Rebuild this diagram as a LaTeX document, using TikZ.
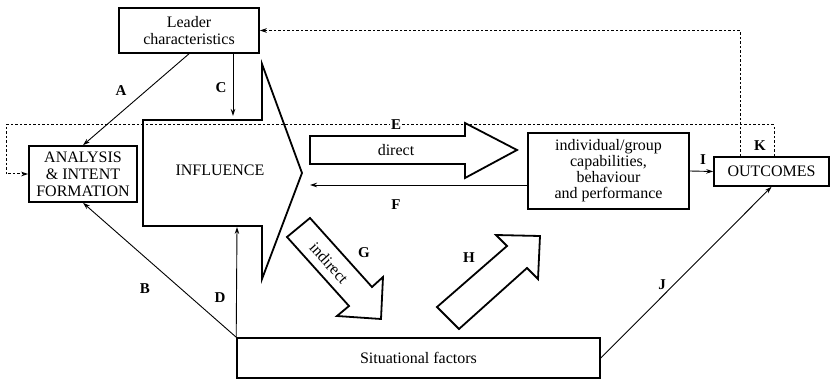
\documentclass[tikz,border=0pt]{standalone}
\usepackage{fontspec}
\setmainfont{Liberation Serif}
\usetikzlibrary{arrows.meta}
\begin{document}
\begin{tikzpicture}[x=1pt,y=-1pt,
  every node/.style={font=\fontsize{16}{17}\selectfont},
  box/.style={draw, line width=1.6pt, align=center, inner sep=0pt},
  conn/.style={line width=0.9pt, -{Stealth[length=7pt,width=4.5pt]}},
  dots/.style={line width=1pt, dash pattern=on 2.5pt off 2pt},
  dotarrow/.style={dots, -{Stealth[length=7pt,width=4.5pt]}},
  lbl/.style={font=\fontsize{15}{16}\selectfont\bfseries, inner sep=1pt},
  fat/.style={draw, line width=1.8pt, line join=miter}]
\useasboundingbox (0,0) rectangle (830,379);

% boxes
\node[box, minimum width=140, minimum height=45] (lead) at (189,30.5) {Leader\\characteristics};
\node[box, minimum width=108, minimum height=56] (anal) at (83,174) {ANALYSIS\\\& INTENT\\FORMATION};
\node[box, minimum width=161, minimum height=76, font=\fontsize{16}{16}\selectfont] (indiv) at (608.5,171) {individual/group\\capabilities,\\behaviour\\and performance};
\node[box, minimum width=115, minimum height=29] (out) at (771.5,171.5) {OUTCOMES};
\node[box, minimum width=363, minimum height=40] (sit) at (418.5,358) {Situational factors};

% INFLUENCE shape
\draw[fat] (143,120) -- (262,120) -- (262,64) -- (302,173) -- (262,279) -- (262,226) -- (143,226) -- cycle;
\node (infl) at (220,170) {INFLUENCE};
\coordinate (inflTop) at (233,116);
\coordinate (inflBot) at (237,227);
\coordinate (inflTip) at (310,185);

% direct arrow
\draw[fat] (310,136) -- (465,136) -- (465,123) -- (517,150) -- (465,178) -- (465,164) -- (310,164) -- cycle;
\node (direct) at (396,150) {direct};

% indirect arrow
\draw[fat] (287,237) -- (310,218) -- (372,287) -- (383,277) -- (381,319) -- (337,316) -- (349,306) -- cycle;
\node[rotate=-48] (indirect) at (329,263) {indirect};

% H arrow
\draw[fat] (437,307) -- (459,329) -- (527,268) -- (538,279) -- (540,236) -- (496,235) -- (507,246) -- cycle;

% connectors
\draw[conn] (lead.south) -- (anal.north);
\draw[conn] (lead.south -| inflTop) -- (inflTop);
\draw[conn] (sit.north west) -- (anal.south);
\draw[conn] (sit.north west) -- (inflBot);
\draw[conn] ([yshift=-14pt]indiv.west) -- (inflTip);
\draw[conn] (indiv.east) -- (out.west);
\draw[conn] (sit.east) -- (out.south);

% dotted feedback loops
\draw[dotarrow] ([xshift=-31.5pt]out.north) |- (lead.east);
\draw[dotarrow] ([xshift=2.5pt]out.north) |- (6,125) |- (anal.west);

% labels
\node[lbl] (lA) at (121,91) {A};
\node[lbl] (lB) at (145,289) {B};
\node[lbl] (lC) at (221,88) {C};
\node[lbl] (lD) at (220,298) {D};
\node[lbl, fill=white] (lE) at (396,125) {E};
\node[lbl] (lF) at (396,205) {F};
\node[lbl] (lG) at (364,253) {G};
\node[lbl] (lH) at (469,258) {H};
\node[lbl] (lI) at (703,160) {I};
\node[lbl] (lJ) at (662,285) {J};
\node[lbl] (lK) at (760,146) {K};
\end{tikzpicture}
\end{document}
